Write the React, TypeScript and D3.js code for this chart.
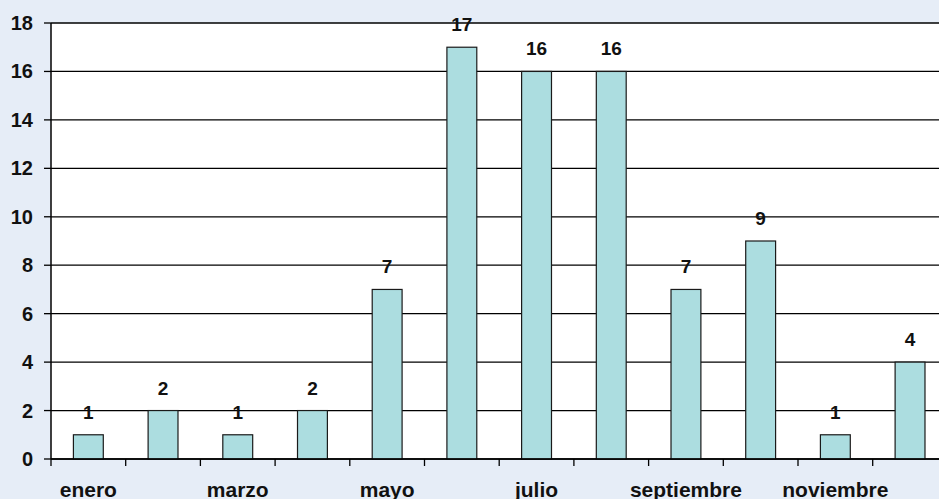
import React from "react";
import * as d3 from "d3";

const months = [
  "enero", "febrero", "marzo", "abril", "mayo", "junio",
  "julio", "agosto", "septiembre", "octubre", "noviembre", "diciembre",
];
const counts = [1, 2, 1, 2, 7, 17, 16, 16, 7, 9, 1, 4];
const yTicks = [0, 2, 4, 6, 8, 10, 12, 14, 16, 18];

const W = 939;
const H = 499;
const left = 51;
const top = 23;
const bottom = 459;
const step = 74.7;

export default function App() {
  const x = d3
    .scaleBand<string>()
    .domain(months)
    .range([left, left + step * months.length])
    .padding(0);
  const y = d3.scaleLinear().domain([0, 18]).range([bottom, top]);
  const bw = x.bandwidth();
  const font = "'Liberation Sans', Arial, sans-serif";

  return (
    <svg
      width={W}
      height={H}
      style={{ position: "absolute", left: 0, top: 0, display: "block" }}
      fontFamily={font}
      fontWeight="bold"
    >
      <rect x={0} y={0} width={W} height={H} fill="#e6edf7" />
      <rect
        x={left}
        y={top}
        width={step * months.length}
        height={bottom - top}
        fill="#ffffff"
      />
      {/* horizontal gridlines */}
      {yTicks.map((t) => (
        <line
          key={"g" + t}
          x1={left}
          x2={left + step * months.length}
          y1={y(t)}
          y2={y(t)}
          stroke="#000"
          strokeWidth={1.3}
        />
      ))}
      {/* bars */}
      {months.map((m, i) => (
        <rect
          key={"b" + m}
          x={(x(m) as number) + bw * 0.3}
          y={y(counts[i])}
          width={bw * 0.4}
          height={bottom - y(counts[i])}
          fill="#acdde0"
          stroke="#1a1a1a"
          strokeWidth={1.2}
        />
      ))}
      {/* value labels */}
      {months.map((m, i) => (
        <text
          key={"v" + m}
          x={(x(m) as number) + bw / 2}
          y={y(counts[i]) - 16}
          textAnchor="middle"
          fontSize={19}
          fill="#111"
        >
          {counts[i]}
        </text>
      ))}
      {/* axes */}
      <line x1={left} x2={left} y1={top} y2={bottom} stroke="#000" strokeWidth={1.5} />
      <line
        x1={left}
        x2={left + step * months.length}
        y1={bottom}
        y2={bottom}
        stroke="#000"
        strokeWidth={1.5}
      />
      {yTicks.map((t) => (
        <g key={"yt" + t}>
          <line x1={left - 7} x2={left} y1={y(t)} y2={y(t)} stroke="#000" strokeWidth={1.3} />
          <text x={33} y={y(t) + 7} textAnchor="end" fontSize={20} fill="#111">
            {t}
          </text>
        </g>
      ))}
      {months.map((m) => (
        <line
          key={"xt" + m}
          x1={x(m) as number}
          x2={x(m) as number}
          y1={bottom}
          y2={bottom + 7}
          stroke="#000"
          strokeWidth={1.3}
        />
      ))}
      {months.map((m, i) =>
        i % 2 === 0 ? (
          <text
            key={"xl" + m}
            x={(x(m) as number) + bw / 2}
            y={497}
            textAnchor="middle"
            fontSize={21}
            fill="#111"
          >
            {m}
          </text>
        ) : null
      )}
    </svg>
  );
}
